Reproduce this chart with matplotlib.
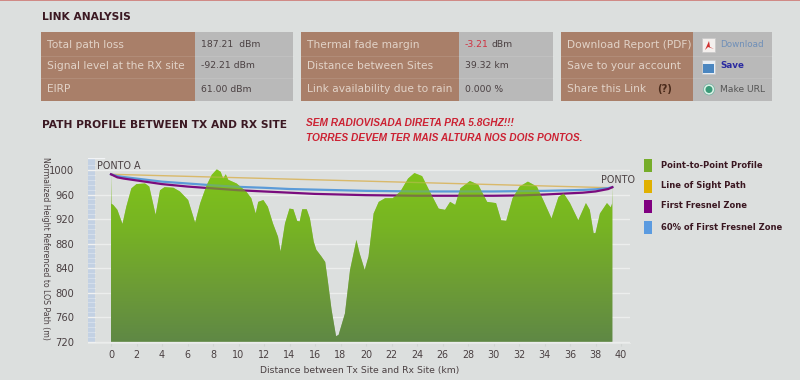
import numpy as np
import matplotlib
matplotlib.use('Agg')
import matplotlib.pyplot as plt
from matplotlib.patches import Rectangle, Circle, Polygon
from matplotlib.colors import LinearSegmentedColormap

profile_km = [0, 0.03, 0.18, 0.5, 0.9, 1.2, 1.6, 2.0, 2.67, 3.0, 3.5, 3.85, 4.2, 4.9, 5.4, 6.05, 6.6, 7.0, 7.5, 7.9,
              8.3, 8.6, 8.8, 9.0, 9.2, 9.85, 10.6, 11.0, 11.35, 11.55, 11.95, 12.3, 12.7, 13.1, 13.3, 13.65, 14.0,
              14.3, 14.6, 14.8, 15.0, 15.35, 15.6, 15.9, 16.1, 16.5, 16.8, 17.0, 17.3, 17.65, 17.85, 18.35, 18.75,
              19.25, 19.5, 19.9, 20.2, 20.6, 21.0, 21.5, 22.1, 22.7, 23.3, 23.8, 24.4, 25.0, 25.7, 26.2, 26.6, 27.0,
              27.4, 28.15, 28.8, 29.5, 30.2, 30.6, 31.0, 31.5, 32.05, 32.7, 33.4, 33.9, 34.55, 35.1, 35.5, 36.0,
              36.65, 37.25, 37.55, 37.85, 38.0, 38.35, 38.9, 39.2, 39.3, 39.32]
profile_m = [993, 945, 943, 935, 912, 940, 970, 977, 978, 973, 927, 967, 972, 971, 965, 951, 914, 946, 975, 992,
             1001, 997, 986, 993, 984, 978, 965, 954, 929, 948, 951, 940, 913, 891, 867, 913, 937,
             936, 917, 916, 936, 936, 921, 883, 870, 859, 850, 820, 772, 729, 731, 766, 837,
             886, 864, 837, 859, 929, 948, 954, 954, 965, 986, 995, 990, 965, 937, 935, 948, 943,
             970, 982, 976, 948, 946, 918, 917, 954, 973, 981, 973, 951, 921, 956, 962, 946,
             918, 946, 935, 897, 897, 929, 946, 939, 945, 972]
los_km = [0, 39.32]
los_m = [993, 971]
zone_km = [0, 0.5, 1, 2, 4, 6, 8, 10, 12, 14, 16, 18, 20, 22, 24, 26, 28, 30, 32, 34, 36, 37, 38, 39, 39.32]
fresnel_m = [993, 988, 986, 983, 977, 973, 970, 967, 965, 963, 961, 960, 959, 958.5, 958, 958, 958, 958, 958.5, 960, 962, 963, 965, 969, 972]
sixty_m = [993, 990, 988.5, 986, 981, 978, 975, 972.5, 971, 969, 968, 967, 966, 965.5, 965, 965, 965, 965, 965.5, 966, 967, 967.5, 968.5, 970.5, 972]
x_ticks = list(range(0, 41, 2))
y_ticks = list(range(720, 1001, 40))
legend_labels = ['Point-to-Point Profile', 'Line of Sight Path', 'First Fresnel Zone', '60% of First Fresnel Zone']
legend_colors = ['#76ad2a', '#e0b000', '#800080', '#5b9be0']
panel_rows = [
    [('Total path loss', '187.21  dBm'), ('Signal level at the RX site', '-92.21 dBm'), ('EIRP', '61.00 dBm')],
    [('Thermal fade margin', None), ('Distance between Sites', '39.32 km'), ('Link availability due to rain', '0.000 %')],
]
share_rows = ['Download Report (PDF)', 'Save to your account', 'Share this Link']

BG = '#dcdfde'
BROWN = '#a97f69'
GREY = '#b9b9b9'
LT = '#e2d3c8'
DK = '#4a4042'
TITLE = '#3b1822'
RED = '#cc2233'
W, H = 800, 380

fig = plt.figure(figsize=(8, 3.8), dpi=100, facecolor=BG)

pg = fig.add_axes([0, 0, 1, 1])
pg.set_xlim(0, W)
pg.set_ylim(H, 0)
pg.axis('off')
pg.add_patch(Rectangle((0, 0), W, 1.2, color='#d08a86', lw=0))

pg.text(42, 17.5, 'LINK ANALYSIS', fontsize=7.65, fontweight='bold', color=TITLE, va='center')
pg.text(42, 125.5, 'PATH PROFILE BETWEEN TX AND RX SITE', fontsize=7.65, fontweight='bold', color=TITLE, va='center')
red_font = dict(family='Liberation Sans', style='italic', fontweight='bold', fontsize=7.3, color=RED, va='center')
pg.text(306, 123, 'SEM RADIOVISADA DIRETA PRA 5.8GHZ!!!', **red_font)
pg.text(306, 138, 'TORRES DEVEM TER MAIS ALTURA NOS DOIS PONTOS.', **red_font)

rows_y = [44.5, 66, 89]
panels = [(41, 195, 293), (301, 459, 553), (561, 693, 772)]
for x0, xm, x1 in panels:
    pg.add_patch(Rectangle((xm, 32), x1 - xm, 69, color=GREY, lw=0))
    pg.add_patch(Rectangle((x0, 32), xm - x0, 69, color=BROWN, lw=0))
    for yy in (56, 78):
        pg.plot([x0, x1], [yy, yy], color='#ffffff', alpha=0.10, lw=0.8)

LAB_FS = 7.7
VAL_FS = 6.7
for (x0, xm, _), rows in zip(panels[:2], panel_rows):
    for y, (lab, val) in zip(rows_y, rows):
        pg.text(x0 + 6, y, lab, fontsize=LAB_FS, color=LT, va='center')
        if val:
            pg.text(xm + 6, y, val, fontsize=VAL_FS, color=DK, va='center')
pg.text(465, 44.5, '-3.21', fontsize=VAL_FS, color='#d03040', va='center')
pg.text(492, 44.5, 'dBm', fontsize=VAL_FS, color=DK, va='center')

for y, lab in zip(rows_y, share_rows):
    pg.text(567, y, lab, fontsize=LAB_FS, color=LT, va='center')
pg.text(657, 89, '(?)', fontsize=7.2, fontweight='bold', color='#4a2a1a', va='center')
pg.text(720, 44.5, 'Download', fontsize=6.3, color='#6f8fb8', va='center')
pg.text(720, 66, 'Save', fontsize=6.3, fontweight='bold', color='#2a2aa0', va='center')
pg.text(720, 89, 'Make URL', fontsize=6.6, color='#555555', va='center')

pg.add_patch(Rectangle((702, 38), 13, 14, fc='#f4f0ee', ec='#c8c8c8', lw=0.5))
pg.add_patch(Polygon([[705, 50], [709, 41], [710, 47], [714, 49], [708, 47]], closed=True, fc='#d03030', lw=0))
pg.add_patch(Rectangle((702, 60), 13, 14, fc='#e8eef4', ec='#c8c8c8', lw=0.5))
pg.add_patch(Rectangle((703, 64), 11, 9, fc='#4a86c0', lw=0))
pg.add_patch(Circle((709, 89.5), 5.5, fc='#d8f0e4', ec='#70b0a0', lw=0.5))
pg.add_patch(Circle((709, 89.5), 3.5, fc='#3a9a78', lw=0))

for y, col, lab in zip([165, 186, 206, 227], legend_colors, legend_labels):
    pg.add_patch(Rectangle((644, y - 6.5), 8, 13, color=col, lw=0))
    pg.text(661, y, lab, fontsize=6.05, fontweight='bold', color=TITLE, va='center')

pg.text(45, 248.5, 'Normalized Height Referenced to LOS Path (m)', fontsize=5.6, color=DK,
        rotation=270, ha='center', va='center')
pg.text(360, 370, 'Distance between Tx Site and Rx Site (km)', fontsize=6.65, color=DK, ha='center', va='center')

L, R, T, B = 88, 630, 158, 343
ax = fig.add_axes([L / W, 1 - B / H, (R - L) / W, (B - T) / H], facecolor='none')
km_px, m_px = 12.75, 171.7 / 280
ax.set_xlim((L - 111) / km_px, (R - 111) / km_px)
ax.set_ylim(720 - (B - 341.7) / m_px, 1000 + (170 - T) / m_px)
for s in ax.spines.values():
    s.set_visible(False)
ax.spines['bottom'].set_visible(True)
ax.spines['bottom'].set_color('#e6e8e7')

band_w = 7 / km_px
x0 = ax.get_xlim()[0]
ax.axvspan(x0, x0 + band_w, color='#c3d1e3', lw=0, zorder=1)
ax.set_yticks(y_ticks)
ax.tick_params(axis='y', which='major', length=0, labelsize=7.2, labelcolor=DK, pad=10)
ax.set_xticks(x_ticks)
ax.tick_params(axis='x', length=2, color='#d0d4d2', labelsize=6.9, labelcolor=DK, pad=3)
for v in y_ticks:
    ax.axhline(v, color='#eceeed', lw=1.0, zorder=2)
ax.axhline(ax.get_ylim()[1] - 0.5, xmax=0.03, color='#f2f4f6', lw=1.0, zorder=2)
for v in np.arange(712, 1016, 8):
    ax.plot([x0, x0 + band_w], [v, v], color='#ffffff', alpha=0.35, lw=0.6, zorder=2)

cmap = LinearSegmentedColormap.from_list('terrain_fill', ['#80c41a', '#77b423', '#6d9d35', '#5f8845'])
grad = np.linspace(0, 1, 256).reshape(-1, 1)
xlim, ylim = ax.get_xlim(), ax.get_ylim()
clip = Polygon(np.column_stack([[0] + profile_km + [39.32], [720] + profile_m + [720]]), closed=True,
               transform=ax.transData, fc='none', lw=0)
ax.add_patch(clip)
# opaque terrain, then the path lines, then a veil of terrain so lines read as seen through it
for z, a in ((3, 1.0), (7, 0.6)):
    im = ax.imshow(grad, cmap=cmap, aspect='auto', extent=[0, 39.32, 720, 1002], zorder=z, origin='upper', alpha=a)
    im.set_clip_path(clip)
ax.set_xlim(xlim)
ax.set_ylim(ylim)

ax.plot(los_km, los_m, color='#d9b96a', lw=1.0, zorder=4)
ax.plot(zone_km, sixty_m, color='#5b9bd8', lw=1.6, zorder=5)
ax.plot(zone_km, fresnel_m, color='#7a0c7e', lw=1.6, zorder=6)

ax.text(-1.1, 1007, 'PONTO A', fontsize=6.9, color=DK, va='center')
ax.text(38.4, 984, 'PONTO', fontsize=6.9, color=DK, va='center')

fig.savefig('out.png', dpi=100, facecolor=BG)
